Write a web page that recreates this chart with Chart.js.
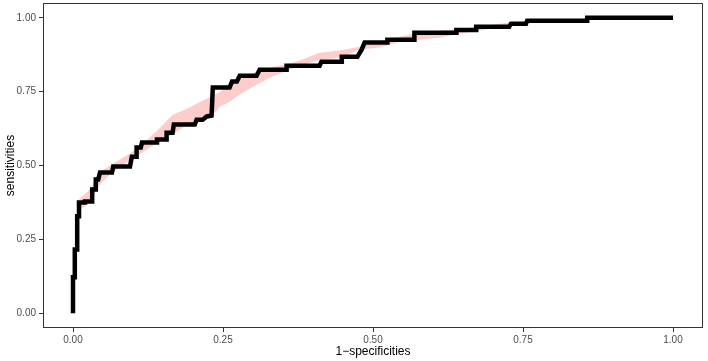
<!DOCTYPE html>
<html>
<head>
    <title>ROC curve</title>
    <script src="https://cdn.jsdelivr.net/npm/chart.js"></script>
    <style>
        body {
            margin: 0;
            background: #ffffff;
        }
    </style>
</head>
<body>
    <canvas id="rocChart" width="708" height="361"></canvas>

    <script>
        // ROC curve corners (1 - specificity, sensitivity)
        const rocFpr = [0, 0, 0.003, 0.003, 0.007, 0.007, 0.010, 0.010, 0.020, 0.020, 0.032, 0.032,
            0.037, 0.038, 0.042, 0.045, 0.065, 0.067, 0.095, 0.098, 0.106, 0.106, 0.113, 0.115,
            0.140, 0.140, 0.156, 0.156, 0.166, 0.168, 0.203, 0.206, 0.216, 0.223, 0.231, 0.233,
            0.261, 0.265, 0.273, 0.278, 0.306, 0.311, 0.356, 0.356, 0.411, 0.414, 0.448, 0.448,
            0.474, 0.481, 0.486, 0.524, 0.524, 0.569, 0.569, 0.639, 0.639, 0.672, 0.672, 0.727,
            0.730, 0.755, 0.757, 0.857, 0.857, 1.0];
        const rocTpr = [0, 0.122, 0.122, 0.216, 0.216, 0.328, 0.328, 0.375, 0.375, 0.378, 0.378, 0.419,
            0.419, 0.453, 0.453, 0.476, 0.476, 0.497, 0.497, 0.530, 0.530, 0.561, 0.561, 0.578,
            0.578, 0.588, 0.588, 0.611, 0.611, 0.639, 0.639, 0.655, 0.655, 0.666, 0.669, 0.764,
            0.764, 0.784, 0.784, 0.804, 0.804, 0.824, 0.824, 0.838, 0.838, 0.851, 0.851, 0.868,
            0.868, 0.892, 0.916, 0.916, 0.926, 0.926, 0.949, 0.949, 0.959, 0.959, 0.970, 0.970,
            0.980, 0.980, 0.990, 0.990, 1.0, 1.0];

        // confidence band edges
        const bandX = [0.010, 0.028, 0.045, 0.062, 0.078, 0.095, 0.111, 0.128, 0.145, 0.166, 0.186,
            0.203, 0.220, 0.233, 0.245, 0.261, 0.278, 0.303, 0.328, 0.353, 0.378, 0.411, 0.444,
            0.478, 0.511, 0.544, 0.577, 0.611, 0.644, 0.677, 0.710, 0.744];
        const bandUpper = [0.385, 0.419, 0.480, 0.500, 0.520, 0.541, 0.568, 0.595, 0.628, 0.672, 0.689,
            0.706, 0.723, 0.736, 0.750, 0.770, 0.791, 0.814, 0.831, 0.841, 0.855, 0.882, 0.889,
            0.902, 0.919, 0.936, 0.949, 0.956, 0.963, 0.970, 0.980, 0.986];
        const bandLower = [0.345, 0.378, 0.436, 0.470, 0.493, 0.520, 0.537, 0.561, 0.581, 0.605, 0.632,
            0.642, 0.655, 0.672, 0.699, 0.716, 0.740, 0.770, 0.797, 0.818, 0.838, 0.858, 0.865,
            0.892, 0.899, 0.919, 0.926, 0.932, 0.946, 0.956, 0.970, 0.980];

        const tickValues = [0, 0.25, 0.5, 0.75, 1];

        const toPoints = (xs, ys) => xs.map((x, i) => ({ x: x, y: ys[i] }));

        // panel border on all four sides
        const panelBorder = {
            id: 'panelBorder',
            afterDraw(chart) {
                const a = chart.chartArea;
                const ctx = chart.ctx;
                ctx.save();
                ctx.strokeStyle = '#333333';
                ctx.lineWidth = 1;
                ctx.strokeRect(a.left + 0.5, a.top + 0.5, a.right - a.left - 1, a.bottom - a.top - 1);
                ctx.restore();
            }
        };

        // no extra room for overflowing end labels
        const noEdgePadding = scale => {
            scale.paddingTop = 0;
            scale.paddingBottom = 0;
            scale.paddingLeft = 0;
            scale.paddingRight = 0;
        };

        const ctx = document.getElementById('rocChart').getContext('2d');

        new Chart(ctx, {
            type: 'scatter',
            data: {
                datasets: [
                    {
                        label: 'roc',
                        data: toPoints(rocFpr, rocTpr),
                        showLine: true,
                        borderColor: '#000000',
                        borderWidth: 4.5,
                        borderCapStyle: 'butt',
                        borderJoinStyle: 'miter',
                        pointRadius: 0,
                        fill: false,
                        order: 0
                    },
                    {
                        label: 'upper',
                        data: toPoints(bandX, bandUpper),
                        showLine: true,
                        borderWidth: 0,
                        borderColor: 'rgba(0,0,0,0)',
                        pointRadius: 0,
                        backgroundColor: 'rgba(255, 0, 0, 0.2)',
                        fill: '+1',
                        order: 1
                    },
                    {
                        label: 'lower',
                        data: toPoints(bandX, bandLower),
                        showLine: true,
                        borderWidth: 0,
                        borderColor: 'rgba(0,0,0,0)',
                        pointRadius: 0,
                        fill: false,
                        order: 2
                    }
                ]
            },
            options: {
                responsive: false,
                animation: false,
                layout: {
                    padding: { left: 0, right: 5, top: 3, bottom: 0 }
                },
                plugins: {
                    legend: { display: false },
                    tooltip: { enabled: false }
                },
                scales: {
                    x: {
                        type: 'linear',
                        min: -0.05,
                        max: 1.05,
                        afterBuildTicks: scale => {
                            scale.ticks = tickValues.map(v => ({ value: v }));
                        },
                        afterFit: scale => {
                            scale.height = 33;
                            noEdgePadding(scale);
                        },
                        grid: {
                            drawOnChartArea: false,
                            tickColor: '#333333',
                            tickLength: 4
                        },
                        border: { display: false },
                        ticks: {
                            padding: 2,
                            color: '#4d4d4d',
                            maxRotation: 0,
                            font: { family: 'Liberation Sans', size: 10 },
                            callback: v => v.toFixed(2)
                        },
                        title: {
                            display: true,
                            text: '1\u2212specificities',
                            color: '#000000',
                            padding: { top: 0, bottom: 2 },
                            font: { family: 'Liberation Sans', size: 12 }
                        }
                    },
                    y: {
                        type: 'linear',
                        min: -0.05,
                        max: 1.05,
                        afterBuildTicks: scale => {
                            scale.ticks = tickValues.map(v => ({ value: v }));
                        },
                        afterFit: scale => {
                            scale.width = 43;
                            noEdgePadding(scale);
                        },
                        grid: {
                            drawOnChartArea: false,
                            tickColor: '#333333',
                            tickLength: 4
                        },
                        border: { display: false },
                        ticks: {
                            padding: 3,
                            color: '#4d4d4d',
                            font: { family: 'Liberation Sans', size: 10 },
                            callback: v => v.toFixed(2)
                        },
                        title: {
                            display: true,
                            text: 'sensitivities',
                            color: '#000000',
                            padding: { top: 3, bottom: 0 },
                            font: { family: 'Liberation Sans', size: 12 }
                        }
                    }
                }
            },
            plugins: [panelBorder]
        });
    </script>
</body>
</html>
